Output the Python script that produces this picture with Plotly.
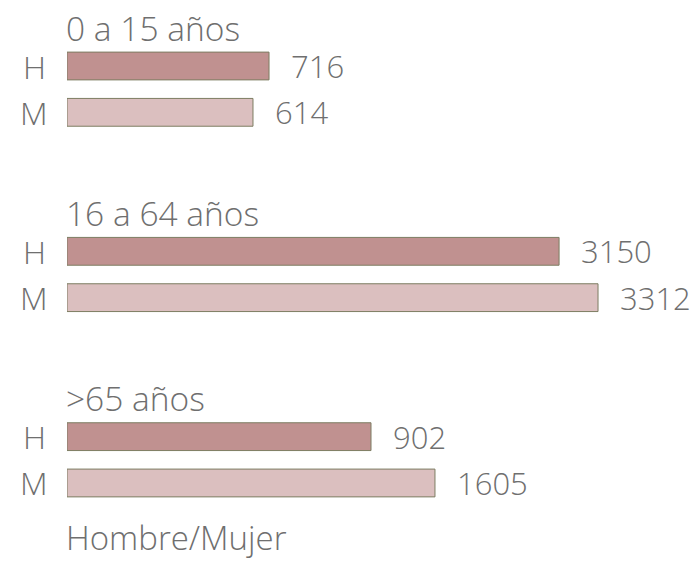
import plotly.graph_objects as go

groups = ["0 a 15 años", "16 a 64 años", ">65 años"]
sexes = ["H", "M"]
values_h = [716, 3150, 902]
values_m = [614, 3312, 1605]
# bar lengths as drawn in the picture (same units as the longest value)
bars_h = [1260, 3069, 1896]
bars_m = [1160, 3312, 2295]
footer = "Hombre/Mujer"

col_h = "#c09190"
col_m = "#dbbfbf"
line_col = "#7d7d62"
txt_col = "#6f6f6f"
FONT = "Open Sans"
W = 300

cats = []
for i, g in enumerate(groups):
    cats += [f"t{i}", f"H{i}", f"M{i}", f"s{i}"]
cats[-1] = "foot"

fig = go.Figure()
fig.add_trace(go.Bar(
    y=[f"H{i}" for i in range(3)], x=bars_h, orientation="h",
    marker=dict(color=col_h, line=dict(color=line_col, width=1)),
    width=0.6, hoverinfo="skip"))
fig.add_trace(go.Bar(
    y=[f"M{i}" for i in range(3)], x=bars_m, orientation="h",
    marker=dict(color=col_m, line=dict(color=line_col, width=1)),
    width=0.6, hoverinfo="skip"))


def f(size):
    return dict(size=size, color=txt_col, family=FONT, weight=W)


ann = []
for i, g in enumerate(groups):
    ann.append(dict(x=0, y=f"t{i}", text=g, xanchor="left", yanchor="middle",
                    showarrow=False, yshift=-8, xshift=-3, font=f(33.5)))
    for s, vals, bars in (("H", values_h, bars_h), ("M", values_m, bars_m)):
        ann.append(dict(x=bars[i], y=f"{s}{i}", text=str(vals[i]), xanchor="left",
                        yanchor="middle", showarrow=False, xshift=20, font=f(31)))
        ann.append(dict(x=0, y=f"{s}{i}", text=s, xanchor="center",
                        yanchor="middle", showarrow=False, xshift=-33, font=f(32)))
ann.append(dict(x=0, y="foot", text=footer, xanchor="left", yanchor="middle",
                showarrow=False, yshift=-8, xshift=-3, font=f(33)))

fig.update_layout(
    width=696, height=561,
    margin=dict(l=67, r=0, t=0, b=0),
    paper_bgcolor="white", plot_bgcolor="white",
    showlegend=False, barmode="overlay",
    annotations=ann,
    xaxis=dict(range=[0, 3923], visible=False, fixedrange=True),
    yaxis=dict(type="category", categoryarray=cats, categoryorder="array",
               range=[11.684, -0.4245], visible=False, fixedrange=True),
)

fig.write_html("out.html", config={"displayModeBar": False})
